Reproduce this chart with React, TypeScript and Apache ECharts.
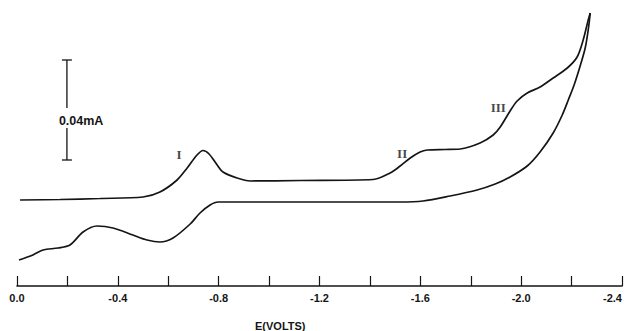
import React, { useEffect, useRef } from "react";
import * as echarts from "echarts";

// Potential (V) and current (µA, cathodic up)
const forwardV = [-0.012, -0.171, -0.329, -0.5, -0.567, -0.635, -0.675, -0.714, -0.738, -0.762, -0.794, -0.817, -0.873, -0.925, -1.123, -1.413, -1.48, -1.52, -1.56, -1.599, -1.627, -1.698, -1.758, -1.837, -1.889, -1.917, -1.956, -1.984, -2.024, -2.075, -2.127, -2.183, -2.222, -2.246, -2.266, -2.274];
const forwardI = [0, 0.2, 0.6, 1.2, 3.2, 8.0, 12.8, 18.0, 19.8, 18.4, 14.0, 11.2, 8.8, 7.6, 7.8, 8.2, 10.8, 13.6, 16.8, 19.2, 20.0, 20.2, 20.4, 22.8, 26.0, 29.2, 35.6, 39.6, 42.8, 45.2, 48.8, 52.8, 57.2, 64.0, 72.0, 74.8];

const reverseV = [-2.274, -2.266, -2.254, -2.234, -2.21, -2.187, -2.163, -2.127, -2.075, -2.024, -1.956, -1.897, -1.825, -1.718, -1.611, -1.52, -1.123, -0.798, -0.766, -0.726, -0.687, -0.619, -0.567, -0.516, -0.46, -0.381, -0.317, -0.262, -0.21, -0.163, -0.103, -0.063, -0.008];
const reverseI = [74.8, 68.0, 60.8, 53.6, 46.0, 40.0, 34.0, 26.8, 19.2, 13.6, 9.2, 6.4, 4.0, 1.6, -0.4, -0.8, -0.8, -0.8, -2.0, -5.2, -9.6, -15.2, -16.8, -16.0, -14.0, -11.2, -10.4, -12.8, -18.0, -19.2, -20.0, -22.0, -24.0];

// Peak labels
const peakLabels = ["I", "II", "III"];
const peakLabelV = [-0.643, -1.528, -1.909];
const peakLabelI = [18.4, 18.8, 37.2];

// Scale bar: 0.04 mA = 40 µA
const scaleBarV = -0.198;
const scaleBarLow = 16;
const scaleBarHigh = 56;
const scaleBarGap = [28.8, 36.8];
const scaleBarTextI = 31.6;
const scaleBarText = "0.04mA";

const xMin = -2.4;
const xMax = 0;
const xTickStep = 0.2;

export default function App() {
  const ref = useRef<HTMLDivElement>(null);
  useEffect(() => {
    if (!ref.current) return;
    const chart = echarts.init(ref.current, null, { renderer: "svg" });
    const fwd = forwardV.map((v, i) => [v, forwardI[i]]);
    const rev = reverseV.map((v, i) => [v, reverseI[i]]);
    const lbl = peakLabels.map((n, i) => ({ name: n, value: [peakLabelV[i], peakLabelI[i]] }));
    const ink = "#151515";
    chart.setOption({
      animation: false,
      backgroundColor: "#ffffff",
      grid: { left: 17, right: 4, top: 10, bottom: 45, outerBoundsMode: "none", containLabel: false },
      xAxis: {
        type: "value",
        min: xMin,
        max: xMax,
        interval: xTickStep,
        inverse: true,
        splitLine: { show: false },
        axisLine: { onZero: false, lineStyle: { color: ink, width: 1.6 } },
        axisTick: { inside: true, length: 10, lineStyle: { color: ink, width: 1.2 } },
        axisLabel: {
          margin: 6,
          color: ink,
          fontFamily: "Liberation Sans, Arial, sans-serif",
          fontWeight: "bold",
          fontSize: 11,
          hideOverlap: false,
          alignMinLabel: "right",
          formatter: (v: number) => {
            const k = Math.round(-v * 10);
            if (k % 4 !== 0) return "";
            return k === 0 ? "0.0" : "-" + (k / 10).toFixed(1);
          },
        },
      },
      yAxis: {
        type: "value",
        min: -34.4,
        max: 76,
        show: false,
        splitLine: { show: false },
      },
      graphic: [
        {
          type: "text",
          left: 255,
          top: 320,
          style: {
            text: "E(VOLTS)",
            fill: ink,
            font: "bold 11px 'Liberation Sans', Arial, sans-serif",
          },
        },
      ],
      series: [
        {
          type: "line",
          data: fwd,
          smooth: 0.3,
          symbol: "none",
          lineStyle: { color: ink, width: 1.7 },
        },
        {
          type: "line",
          data: rev,
          smooth: 0.3,
          symbol: "none",
          lineStyle: { color: ink, width: 1.7 },
        },
        {
          type: "scatter",
          data: lbl,
          symbolSize: 0,
          label: {
            show: true,
            position: "inside",
            formatter: (p: any) => p.name,
            color: ink,
            fontFamily: "Liberation Serif, Times New Roman, serif",
            fontWeight: "bold",
            fontSize: 13,
          },
        },
        {
          type: "custom",
          data: [[scaleBarV, scaleBarLow, scaleBarHigh]],
          renderItem: (params: any, api: any) => {
            const v = api.value(0);
            const top = api.coord([v, api.value(2)]);
            const bot = api.coord([v, api.value(1)]);
            const g1 = api.coord([v, scaleBarGap[1]]);
            const g0 = api.coord([v, scaleBarGap[0]]);
            const t = api.coord([v, scaleBarTextI]);
            const st = { stroke: ink, lineWidth: 1.3 };
            return {
              type: "group",
              children: [
                { type: "line", shape: { x1: top[0], y1: top[1], x2: g1[0], y2: g1[1] }, style: st },
                { type: "line", shape: { x1: g0[0], y1: g0[1], x2: bot[0], y2: bot[1] }, style: st },
                { type: "line", shape: { x1: top[0] - 5, y1: top[1], x2: top[0] + 5, y2: top[1] }, style: st },
                { type: "line", shape: { x1: bot[0] - 5, y1: bot[1], x2: bot[0] + 5, y2: bot[1] }, style: st },
                {
                  type: "text",
                  x: t[0] - 8,
                  y: t[1],
                  style: {
                    text: scaleBarText,
                    fill: ink,
                    font: "bold 12.5px 'Liberation Sans', Arial, sans-serif",
                    verticalAlign: "middle",
                    align: "left",
                  },
                },
              ],
            };
          },
        },
      ],
    });
    return () => chart.dispose();
  }, []);
  return (
    <div
      ref={ref}
      style={{ position: "fixed", left: 0, top: 0, width: 626, height: 331, background: "#fff" }}
    />
  );
}
